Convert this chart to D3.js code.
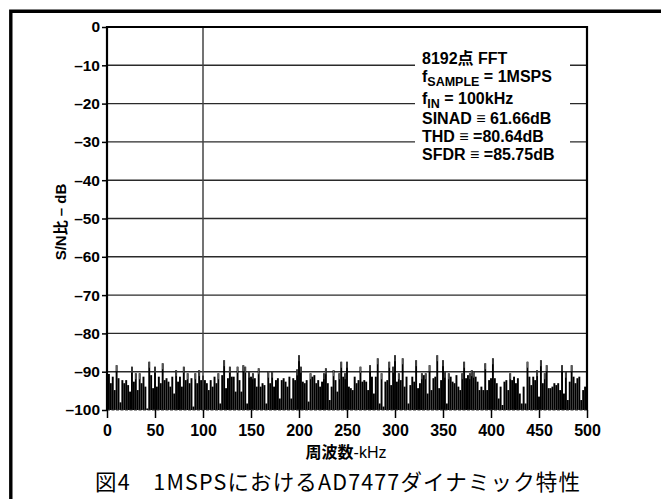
<!DOCTYPE html>
<html>
<head>
<meta charset="utf-8">
<script src="https://cdn.jsdelivr.net/npm/d3@7"></script>
<style>
	body { margin: 0; background: #fff; }
	svg { display: block; }
	.tick text { font-family: "Liberation Sans", Arial, sans-serif; font-weight: bold; }
</style>
</head>
<body>
<svg id="fft" width="661" height="499"></svg>
<script>
// 8192 point FFT, fin = 100kHz, fs = 1MSPS
var xTicks = [0, 50, 100, 150, 200, 250, 300, 350, 400, 450, 500]
var yTicks = [0, -10, -20, -30, -40, -50, -60, -70, -80, -90, -100]

var fundamentalKHz = 100
var fundamentalDb = 0

// noise floor, every 2 kHz from 0 to 500 kHz
var noiseStartKHz = 0
var noiseStepKHz = 2
var noiseDb = [
	-90.4, -90.6, -93.0, -91.3, -94.8, -88.3, -91.7, -98.0, -92.2, -93.0,
	-92.2, -93.5, -95.2, -88.7, -92.6, -90.4, -94.8, -90.4, -93.0, -91.3,
	-93.9, -99.6, -87.4, -90.9, -94.3, -88.7, -93.9, -91.3, -93.0, -87.8,
	-92.2, -91.7, -92.6, -93.9, -91.3, -95.7, -89.6, -92.6, -91.3, -93.9,
	-88.7, -92.2, -90.4, -93.0, -91.7, -99.1, -90.4, -93.0, -89.6, -92.2,
	-91.0, -92.2, -93.0, -94.8, -92.2, -93.9, -91.3, -93.0, -90.4, -98.3,
	-90.9, -87.0, -94.3, -91.7, -88.7, -91.3, -91.3, -95.2, -88.7, -92.2,
	-95.2, -88.3, -88.7, -98.3, -90.0, -91.3, -90.4, -91.7, -93.9, -89.1,
	-93.9, -93.0, -93.5, -98.3, -90.0, -93.0, -90.0, -93.9, -92.2, -91.7,
	-97.0, -92.2, -91.7, -92.6, -93.9, -91.3, -97.0, -91.7, -92.2, -89.4,
	-85.7, -88.7, -92.6, -93.0, -92.2, -97.8, -90.4, -91.3, -90.9, -93.0,
	-92.2, -93.9, -92.6, -90.4, -89.1, -93.0, -97.4, -93.9, -89.6, -92.2,
	-95.2, -90.4, -87.4, -91.3, -90.4, -87.4, -93.9, -94.3, -94.8, -91.3,
	-93.0, -92.2, -88.7, -92.6, -92.2, -92.6, -94.8, -88.3, -91.3, -95.7,
	-91.3, -86.5, -98.3, -90.4, -99.1, -92.6, -92.2, -87.4, -93.5, -88.7,
	-85.7, -92.6, -90.4, -92.2, -86.5, -93.9, -91.3, -98.3, -93.5, -91.3,
	-92.6, -87.0, -94.3, -93.0, -90.4, -90.9, -90.4, -95.7, -88.3, -94.8,
	-91.7, -91.3, -85.7, -94.3, -92.2, -87.0, -90.0, -98.3, -90.4, -91.3,
	-92.6, -93.0, -90.9, -93.9, -94.8, -90.4, -87.4, -91.7, -90.9, -90.4,
	-89.6, -90.0, -91.3, -92.6, -94.8, -93.9, -94.8, -87.8, -94.8, -92.2,
	-91.7, -86.5, -91.7, -93.0, -97.0, -93.9, -98.7, -92.6, -92.2, -94.8,
	-90.4, -92.2, -91.3, -93.0, -91.7, -95.7, -98.3, -93.9, -98.3, -87.4,
	-91.3, -93.5, -91.3, -92.2, -89.6, -96.5, -87.0, -93.0, -90.4, -88.3,
	-94.3, -94.3, -93.9, -93.0, -93.5, -93.0, -94.8, -88.3, -95.7, -90.0,
	-97.4, -92.6, -88.3, -91.3, -93.0, -91.7, -91.3, -97.4, -94.8, -93.9,
	-93.9
]

var legendLines = [
	{ main: "8192点 FFT", sub: "", rest: "" },
	{ main: "f", sub: "SAMPLE", rest: " = 1MSPS" },
	{ main: "f", sub: "IN", rest: " = 100kHz" },
	{ main: "SINAD ≡ 61.66dB", sub: "", rest: "" },
	{ main: "THD ≡ =80.64dB", sub: "", rest: "" },
	{ main: "SFDR ≡ =85.75dB", sub: "", rest: "" }
]
var legendBaselines = [64, 82, 104, 124, 142, 160]

var yLabel = "S/N比 – dB"
var xLabelBold = "周波数"
var xLabelRest = "-kHz"
var caption = "図4　1MSPSにおけるAD7477ダイナミック特性"

function draw(){
	var svg = d3.select('svg#fft')
	var left = 107, right = 587, top = 27, bottom = 410
	var font = '"Liberation Sans", Arial, "Noto Sans CJK JP", sans-serif'

	var x = d3.scaleLinear().domain([0, 500]).range([left, right])
	var y = d3.scaleLinear().domain([0, -100]).range([top, bottom])

	// outer frame (only left and top edges are in the picture)
	svg.append('path')
		.attr('d', 'M10.8,499 V11.3 H661')
		.style('fill', 'none')
		.style('stroke', '#000')
		.style('stroke-width', 3.4)

	// horizontal grid
	svg.append('g').selectAll('line')
		.data(yTicks.filter(function(d){ return d !== 0 && d !== -100 }))
		.enter().append('line')
		.attr('x1', left).attr('x2', right)
		.attr('y1', function(d){ return y(d) }).attr('y2', function(d){ return y(d) })
		.style('stroke', '#2a2a2a')
		.style('stroke-width', 1.4)

	// noise floor as thin bars, one per bin
	var pts = noiseDb.map(function(v, i){ return { f: noiseStartKHz + i * noiseStepKHz, db: v } })
	var bw = x(noiseStepKHz) - x(0)
	svg.append('g').selectAll('rect.noise')
		.data(pts)
		.enter().append('rect')
		.attr('class', 'noise')
		.attr('x', function(d){ return Math.max(left, x(d.f) - bw / 2) })
		.attr('width', function(d){ return Math.min(x(d.f) + bw / 2, right) - Math.max(left, x(d.f) - bw / 2) })
		.attr('y', function(d){ return y(d.db) })
		.attr('height', function(d){ return y(-100) - y(d.db) })
		.style('fill', '#000')
	// lighter hairline on each bin top, like the anti-aliased trace
	svg.append('g').selectAll('line.spike')
		.data(pts.filter(function(d){ return d.db > -90.5 }))
		.enter().append('line')
		.attr('class', 'spike')
		.attr('x1', function(d){ return x(d.f) }).attr('x2', function(d){ return x(d.f) })
		.attr('y1', function(d){ return y(d.db) }).attr('y2', function(d){ return y(d.db) + 6 })
		.style('stroke', '#666')
		.style('stroke-width', 1)

	// fundamental
	svg.append('line')
		.datum({ f: fundamentalKHz, db: fundamentalDb })
		.attr('x1', function(d){ return x(d.f) }).attr('x2', function(d){ return x(d.f) })
		.attr('y1', function(d){ return y(d.db) }).attr('y2', y(-100))
		.style('stroke', '#444')
		.style('stroke-width', 1.5)

	// -100 line
	svg.append('line')
		.attr('x1', left).attr('x2', right)
		.attr('y1', y(-100)).attr('y2', y(-100))
		.style('stroke', '#333')
		.style('stroke-width', 1)
		.style('stroke-dasharray', '3,1.5')

	// legend box hides the grid behind it
	var lg = svg.append('g')
	lg.append('rect')
		.attr('x', 415).attr('y', 48).attr('width', 155).attr('height', 118)
		.style('fill', '#fff')
	legendLines.forEach(function(l, i){
		var t = lg.append('text')
			.attr('x', 422).attr('y', legendBaselines[i])
			.style('font-family', font)
			.style('font-weight', 'bold')
			.style('font-size', '16px')
		t.append('tspan').text(l.main)
		if(l.sub){
			t.append('tspan').attr('dy', 3.5).style('font-size', '12.5px').text(l.sub)
			t.append('tspan').attr('dy', -3.5).text(l.rest)
		}
	})

	// plot border
	svg.append('path')
		.attr('d', 'M' + left + ',' + bottom + ' V' + top + ' H' + right + ' V' + bottom)
		.style('fill', 'none')
		.style('stroke', '#000')
		.style('stroke-width', 2.2)

	// axes
	var yAxis = d3.axisLeft(y)
		.tickValues(yTicks)
		.tickSize(5)
		.tickPadding(2)
		.tickFormat(function(d){ return d === 0 ? '0' : '–' + Math.abs(d) })
	var gy = svg.append('g')
		.attr('transform', 'translate(' + left + ',0)')
		.call(yAxis)
	gy.select('.domain').remove()
	gy.selectAll('.tick line').style('stroke', '#000').style('stroke-width', 1.5)
	gy.selectAll('.tick text').style('font-size', '15.5px').style('fill', '#000')

	var xAxis = d3.axisBottom(x)
		.tickValues(xTicks)
		.tickSize(8)
		.tickPadding(6.5)
	var gx = svg.append('g')
		.attr('transform', 'translate(0,' + bottom + ')')
		.call(xAxis)
	gx.select('.domain').remove()
	gx.selectAll('.tick line').style('stroke', '#000').style('stroke-width', 1.5)
	gx.selectAll('.tick text').style('font-size', '16px').style('fill', '#000')

	// axis titles
	svg.append('text')
		.attr('transform', 'translate(66,222) rotate(-90)')
		.attr('text-anchor', 'middle')
		.style('font-family', font)
		.style('font-weight', 'bold')
		.style('font-size', '15px')
		.text(yLabel)

	var xl = svg.append('text')
		.attr('x', 346).attr('y', 458)
		.attr('text-anchor', 'middle')
		.style('font-family', font)
		.style('font-size', '16px')
	xl.append('tspan').style('font-weight', 'bold').text(xLabelBold)
	xl.append('tspan').text(xLabelRest)

	svg.append('text')
		.attr('x', 95).attr('y', 490)
		.attr('textLength', 485)
		.attr('lengthAdjust', 'spacing')
		.style('font-family', '"Noto Sans CJK JP", sans-serif')
		.style('font-size', '21.5px')
		.text(caption)
}
draw()
</script>
</body>
</html>
